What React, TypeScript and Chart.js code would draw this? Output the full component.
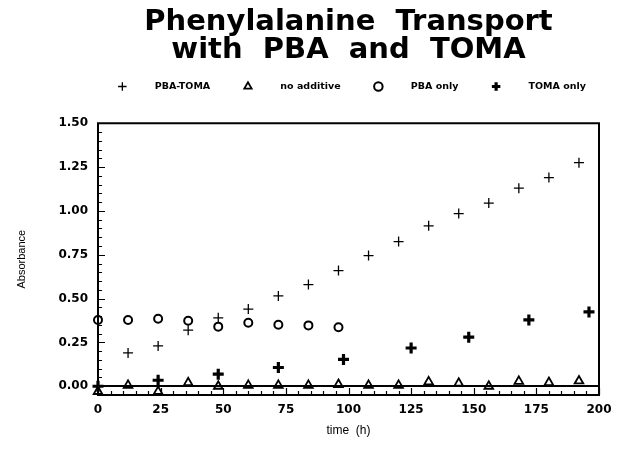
import React, { useEffect, useRef } from 'react';
import { Chart, registerables } from 'chart.js';

Chart.register(...registerables);

const titleLines = ['Phenylalanine  Transport', 'with  PBA  and  TOMA'];
const seriesNames = ['PBA-TOMA', 'no additive', 'PBA only', 'TOMA only'];

const pbaTomaHours = [0, 12, 24, 36, 48, 60, 72, 84, 96, 108, 120, 132, 144, 156, 168, 180, 192];
const pbaTomaValues = [0.0, 0.19, 0.23, 0.32, 0.39, 0.44, 0.515, 0.58, 0.66, 0.745, 0.825, 0.915, 0.985, 1.045, 1.13, 1.19, 1.275];

const noAdditiveHours = [0, 12, 24, 36, 48, 60, 72, 84, 96, 108, 120, 132, 144, 156, 168, 180, 192];
const noAdditiveValues = [-0.03, 0.005, -0.03, 0.02, 0.0, 0.005, 0.005, 0.005, 0.01, 0.005, 0.005, 0.025, 0.017, 0.0, 0.028, 0.021, 0.03];

const pbaOnlyHours = [0, 12, 24, 36, 48, 60, 72, 84, 96];
const pbaOnlyValues = [0.378, 0.378, 0.385, 0.374, 0.34, 0.362, 0.351, 0.347, 0.336];

const tomaOnlyHours = [0, 24, 48, 72, 98, 125, 148, 172, 196];
const tomaOnlyValues = [0.0, 0.034, 0.069, 0.107, 0.153, 0.218, 0.28, 0.378, 0.424];

const xTickValues = [0, 25, 50, 75, 100, 125, 150, 175, 200];
const yTickValues = [0, 0.25, 0.5, 0.75, 1.0, 1.25, 1.5];
const xMinorStep = 5;
const yMinorStep = 0.05;

const toPoints = (xs: number[], ys: number[]) => xs.map((x, i) => ({ x, y: ys[i] }));

const framePlugin = {
  id: 'frameTicks',
  afterLayout(chart: any) {
    const a = chart.chartArea;
    if (chart.titleBlock) {
      chart.titleBlock.left = a.left;
      chart.titleBlock.right = a.right;
    }
    if (chart.legend) {
      chart.legend.left = a.left - 4;
      chart.legend.right = a.right + 24;
    }
  },
  afterDatasetsDraw(chart: any) {
    const { ctx, chartArea: a, scales } = chart;
    const xs = scales.x;
    const ys = scales.y;
    ctx.save();
    ctx.strokeStyle = '#000';
    ctx.lineWidth = 1.2;
    ctx.beginPath();
    const yMax = yTickValues[yTickValues.length - 1];
    const nY = Math.round(yMax / yMinorStep);
    for (let k = 0; k <= nY; k++) {
      const v = k * yMinorStep;
      const py = Math.round(ys.getPixelForValue(v)) + 0.5;
      const major = k % 5 === 0;
      ctx.moveTo(a.left, py);
      ctx.lineTo(a.left + (major ? 7 : 4), py);
    }
    const xMax = xTickValues[xTickValues.length - 1];
    const nX = Math.round(xMax / xMinorStep);
    for (let k = 0; k <= nX; k++) {
      const v = k * xMinorStep;
      const px = Math.round(xs.getPixelForValue(v)) + 0.5;
      const major = k % 5 === 0;
      ctx.moveTo(px, a.bottom);
      ctx.lineTo(px, a.bottom - (major ? 7 : 4));
    }
    ctx.stroke();
    ctx.lineWidth = 2;
    ctx.strokeRect(a.left, a.top, a.right - a.left, a.bottom - a.top);
    ctx.restore();
  },
};

const tickFont = { family: 'DejaVu Sans', weight: 'bold' as const, size: 12 };

export default function App() {
  const canvasRef = useRef<HTMLCanvasElement | null>(null);

  useEffect(() => {
    if (!canvasRef.current) return;
    const chart = new Chart(canvasRef.current, {
      type: 'scatter',
      data: {
        datasets: [
          {
            label: seriesNames[0],
            data: toPoints(pbaTomaHours, pbaTomaValues),
            pointStyle: 'cross',
            pointRadius: 5,
            borderWidth: 1.3,
            borderColor: '#000',
            backgroundColor: 'rgba(0,0,0,0)',
          },
          {
            label: seriesNames[1],
            data: toPoints(noAdditiveHours, noAdditiveValues),
            pointStyle: 'triangle',
            pointRadius: 5,
            borderWidth: 1.8,
            borderColor: '#000',
            backgroundColor: 'rgba(0,0,0,0)',
          },
          {
            label: seriesNames[2],
            data: toPoints(pbaOnlyHours, pbaOnlyValues),
            pointStyle: 'circle',
            pointRadius: 4,
            borderWidth: 2,
            borderColor: '#000',
            backgroundColor: 'rgba(0,0,0,0)',
          },
          {
            label: seriesNames[3],
            data: toPoints(tomaOnlyHours, tomaOnlyValues),
            pointStyle: 'cross',
            pointRadius: 5.5,
            borderWidth: 3.2,
            borderColor: '#000',
            backgroundColor: 'rgba(0,0,0,0)',
          },
        ],
      },
      options: {
        animation: false,
        responsive: true,
        maintainAspectRatio: false,
        layout: { padding: { left: 7, right: 12, top: 0, bottom: 1 } },
        plugins: {
          title: {
            display: true,
            text: titleLines,
            color: '#000',
            font: { family: 'DejaVu Sans', weight: 'bold', size: 29, lineHeight: 0.97 },
            padding: { top: 0.5, bottom: -3 },
          },
          legend: {
            display: true,
            position: 'top',
            labels: {
              usePointStyle: true,
              boxWidth: 9,
              boxHeight: 6,
              padding: 20,
              color: '#000',
              font: { family: 'DejaVu Sans', weight: 'bold', size: 9.5 },
              generateLabels: (c: any) => {
                const items = Chart.defaults.plugins.legend.labels.generateLabels(c);
                return items.map((it: any) => ({ ...it, text: '       ' + it.text + '    ' }));
              },
            },
          },
          tooltip: { enabled: false },
        },
        scales: {
          xTop: {
            type: 'linear',
            position: 'top',
            display: true,
            ticks: { display: false },
            grid: { display: false, drawTicks: false },
            border: { display: false },
            afterFit: (s: any) => {
              s.height = 22;
            },
          },
          x: {
            type: 'linear',
            position: 'bottom',
            min: 0,
            max: 200,
            afterBuildTicks: (s: any) => {
              s.ticks = xTickValues.map((v) => ({ value: v }));
            },
            afterFit: (s: any) => {
              s.height = 52;
              s.paddingLeft = 0;
              s.paddingRight = 0;
            },
            grid: { display: false, drawTicks: false },
            border: { display: false },
            ticks: {
              color: '#000',
              font: tickFont,
              padding: 8,
              maxRotation: 0,
              autoSkip: false,
              callback: (v: any) => String(v),
            },
            title: {
              display: true,
              text: 'time  (h)',
              color: '#000',
              font: { family: 'Liberation Sans', size: 12 },
              padding: { top: 0, bottom: 9 },
            },
          },
          y: {
            type: 'linear',
            min: -0.05,
            max: 1.5,
            afterBuildTicks: (s: any) => {
              s.ticks = yTickValues.map((v) => ({ value: v }));
            },
            afterFit: (s: any) => {
              s.width = 83;
              s.paddingTop = 0;
              s.paddingBottom = 0;
            },
            grid: {
              drawTicks: false,
              lineWidth: 2,
              color: (c: any) => (c.tick && c.tick.value === 0 ? '#000' : 'rgba(0,0,0,0)'),
            },
            border: { display: false },
            ticks: {
              color: '#000',
              font: tickFont,
              padding: 10,
              autoSkip: false,
              callback: (v: any) => Number(v).toFixed(2),
            },
            title: {
              display: true,
              text: 'Absorbance',
              color: '#000',
              font: { family: 'Liberation Sans', size: 11 },
              padding: { top: 0, bottom: 0 },
            },
          },
        },
      } as any,
      plugins: [framePlugin],
    });
    return () => chart.destroy();
  }, []);

  return (
    <div style={{ width: 603, height: 440, position: 'relative' }}>
      <canvas ref={canvasRef} />
    </div>
  );
}
